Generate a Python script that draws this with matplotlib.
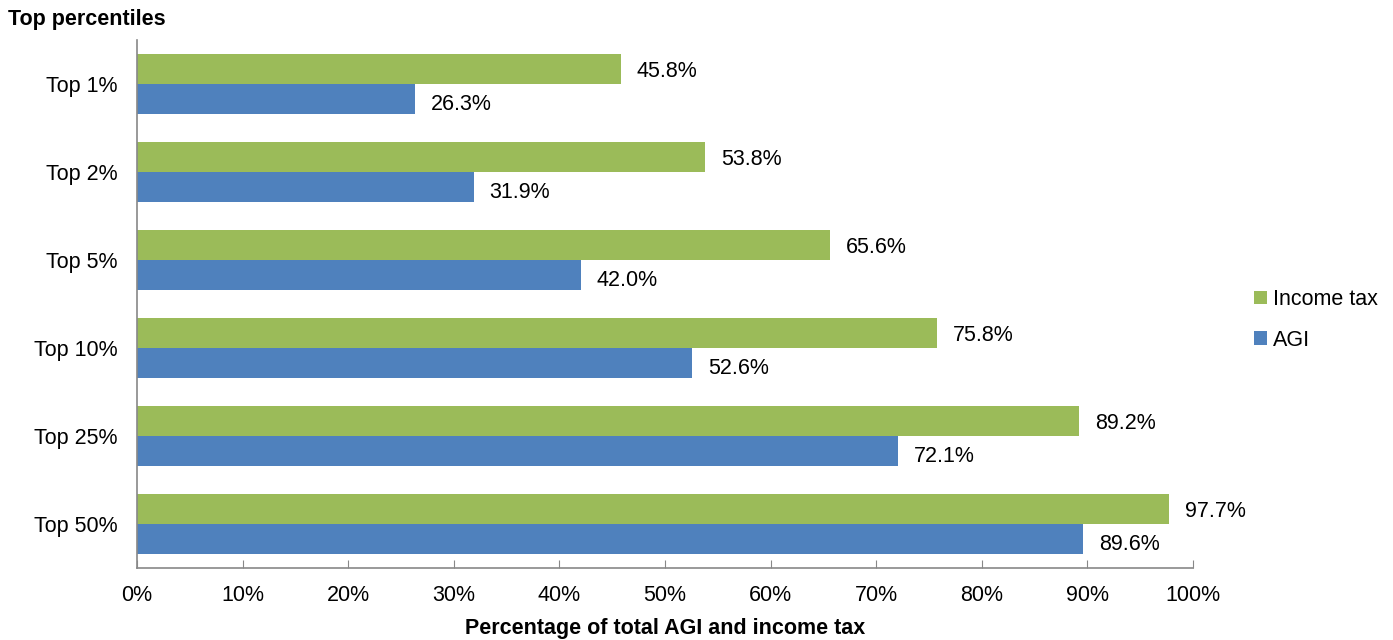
import matplotlib
matplotlib.use("Agg")
import matplotlib.pyplot as plt
import numpy as np
from matplotlib.ticker import FuncFormatter

plt.rcParams['font.family'] = ['Liberation Sans', 'DejaVu Sans']

categories = ["Top 1%", "Top 2%", "Top 5%", "Top 10%", "Top 25%", "Top 50%"]
income_tax = [45.8, 53.8, 65.6, 75.8, 89.2, 97.7]
agi = [26.3, 31.9, 42.0, 52.6, 72.1, 89.6]

green = "#9BBB59"
blue = "#4F81BD"
FS = 15.5

fig = plt.figure(figsize=(13.93, 6.4), dpi=100)
ax = fig.add_axes([137/1393, 1 - 568/640, (1193-137)/1393, (568-40)/640])

y = np.arange(len(categories))
h = 0.34
ax.barh(y - h/2, income_tax, height=h, color=green, label="Income tax")
ax.barh(y + h/2, agi, height=h, color=blue, label="AGI")

for yi, v in zip(y, income_tax):
    ax.text(v + 1.5, yi - h/2 + 0.03, f"{v:.1f}%", va="center", ha="left", fontsize=FS,
            bbox=dict(facecolor="white", edgecolor="none", pad=2))
for yi, v in zip(y, agi):
    ax.text(v + 1.5, yi + h/2 + 0.06, f"{v:.1f}%", va="center", ha="left", fontsize=FS,
            bbox=dict(facecolor="white", edgecolor="none", pad=2))

ax.set_ylim(len(categories) - 0.5, -0.5)
ax.set_xlim(0, 100)
ax.set_yticks(y)
ax.set_yticklabels(categories, fontsize=FS)
ax.set_xticks(np.arange(0, 101, 10))
ax.xaxis.set_major_formatter(FuncFormatter(lambda v, p: f"{v:.0f}%"))
ax.tick_params(axis='x', labelsize=FS, direction='in', length=6, color='#888888', pad=12)
ax.tick_params(axis='y', length=0, pad=14)
for s in ['top', 'right']:
    ax.spines[s].set_visible(False)
for s in ['left', 'bottom']:
    ax.spines[s].set_color('#888888')
    ax.spines[s].set_linewidth(1.2)

ax.set_xlabel("Percentage of total AGI and income tax", fontsize=FS, fontweight='bold', labelpad=9)
fig.text(8/1393, 1 - 19/640, "Top percentiles", fontsize=FS, fontweight='bold', va='center', ha='left')

ax.legend(loc='center left', bbox_to_anchor=((1245-137)/(1193-137), 0.47), frameon=False, fontsize=FS,
          handlelength=0.6, handleheight=0.6, handletextpad=0.3, labelspacing=0.9, borderaxespad=0)

fig.savefig("out.png", dpi=100)
